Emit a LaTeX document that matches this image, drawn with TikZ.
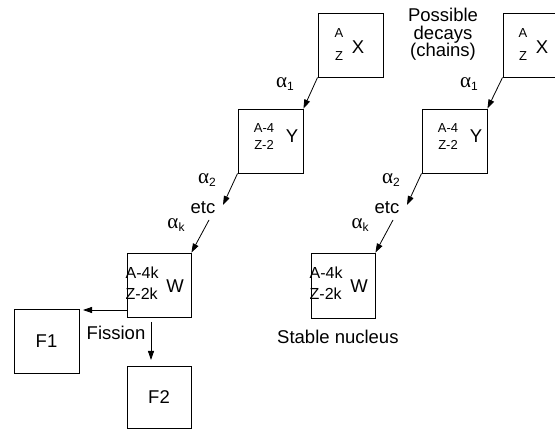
\documentclass[tikz,border=0pt]{standalone}
\usepackage{fontspec}
\setmainfont{Liberation Sans}
\newfontfamily\serifA{Liberation Serif}
\usetikzlibrary{arrows.meta}
\newcommand\alp[1]{{\serifA\fontsize{21}{21}\selectfont α}\raisebox{-3pt}{\fontsize{12}{12}\selectfont #1}}
\tikzset{
  box/.style={draw, line width=0.9pt, minimum width=65pt, minimum height=64pt, inner sep=0pt},
  arr/.style={line width=0.8pt, -{Triangle[length=9pt,width=6pt]}},
  txt/.style={inner sep=0pt, font=\fontsize{18.5}{18.5}\selectfont},
  sml/.style={inner sep=0pt, font=\fontsize{13}{13}\selectfont},
  mid/.style={inner sep=0pt, anchor=west, font=\fontsize{16}{16}\selectfont},
  lab/.style={inner sep=0pt},
}
\begin{document}
\begin{tikzpicture}[x=1pt,y=-1pt]
\useasboundingbox (0,0) rectangle (555,430);
\clip (0,0) rectangle (555,430);
% ---------- left chain ----------
\node[box] (X1) at (350.5,45) {};
\node[box] (Y1) at (270.5,141) {};
\node[box, minimum width=64pt] (W1) at (159,285) {};
\node[box] (F1) at (46.5,341) {};
\node[box, minimum width=64pt, minimum height=62pt] (F2) at (159,397) {};
\node[sml] (X1a) at (339,33) {A};
\node[sml] (X1z) at (339,56) {Z};
\node[txt] (X1x) at (358,47) {X};
\node[sml] (Y1a) at (264,128) {A-4};
\node[sml] (Y1z) at (264,145) {Z-2};
\node[txt] (Y1y) at (292,136) {Y};
\node[mid] (W1a) at (125.5,273) {A-4k};
\node[mid] (W1z) at (125.5,294) {Z-2k};
\node[txt] (W1w) at (175,286) {W};
\node[txt] (F1t) at (46.5,341) {F1};
\node[txt] (F2t) at (159,397) {F2};
\node[lab] (a11) at (285,84) {\alp{1}};
\node[lab] (a21) at (207,180) {\alp{2}};
\node[lab] (ak1) at (176,225) {\alp{\fontspec{Liberation Sans}k}};
\node[txt] (etc1) at (203,208) {etc};
\node[txt] (fis) at (116,333) {Fission};
\coordinate (e1in) at (223,205);
\coordinate (e1out) at (209,220);
\coordinate (f1s) at (127,310);
\coordinate (f1e) at (83,310);
\coordinate (f2s) at (151,322);
\coordinate (f2e) at (151,360);
\draw[arr] (X1.south west) -- (Y1.north east);
\draw[arr] (Y1.south west) -- (e1in);
\draw[arr] (e1out) -- (W1.north east);
\draw[arr] (f1s) -- (f1e);
\draw[arr] (f2s) -- (f2e);
% ---------- right chain ----------
\node[box] (X2) at (535.5,45) {};
\node[box] (Y2) at (454.5,141) {};
\node[box, minimum width=64pt, minimum height=65pt] (W2) at (343,285.5) {};
\node[sml] (X2a) at (523,33) {A};
\node[sml] (X2z) at (523,56) {Z};
\node[txt] (X2x) at (542,47) {X};
\node[sml] (Y2a) at (448,128) {A-4};
\node[sml] (Y2z) at (448,145) {Z-2};
\node[txt] (Y2y) at (476,136) {Y};
\node[mid] (W2a) at (309.5,273) {A-4k};
\node[mid] (W2z) at (309.5,294) {Z-2k};
\node[txt] (W2w) at (359,286) {W};
\node[lab] (a12) at (469,84) {\alp{1}};
\node[lab] (a22) at (391,180) {\alp{2}};
\node[lab] (ak2) at (360,225) {\alp{\fontspec{Liberation Sans}k}};
\node[txt] (etc2) at (387,208) {etc};
\node[txt, anchor=west] (stab) at (277,337) {Stable nucleus};
\node[inner sep=0pt, align=center, anchor=north, font=\fontsize{18.5}{17.5}\selectfont] (pd) at (443,8) {Possible\\decays\\(chains)};
\coordinate (e2in) at (407,205);
\coordinate (e2out) at (393,220);
\draw[arr] (X2.south west) -- (Y2.north east);
\draw[arr] (Y2.south west) -- (e2in);
\draw[arr] (e2out) -- (W2.north east);
\end{tikzpicture}
\end{document}
